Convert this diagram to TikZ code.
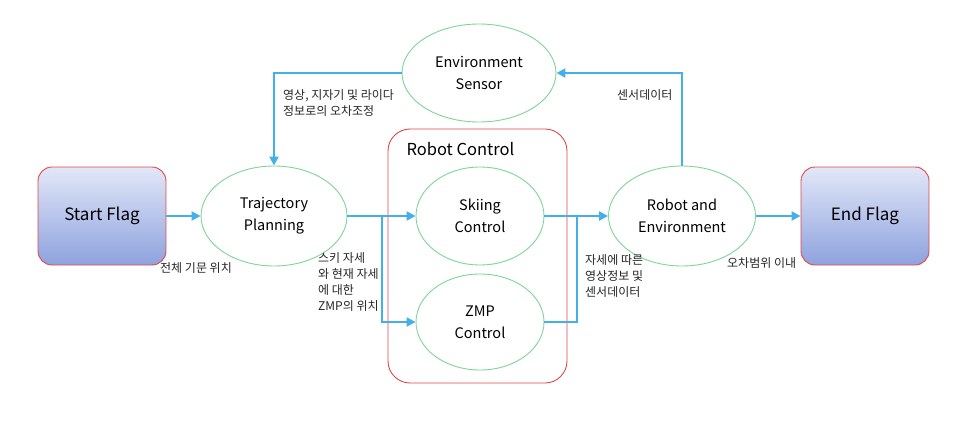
\documentclass[tikz,border=0pt]{standalone}
\usepackage{fontspec}
\setmainfont{Noto Sans CJK KR}
\usetikzlibrary{shapes.geometric,arrows.meta}
\definecolor{flow}{HTML}{45B0E8}
\definecolor{ellg}{HTML}{7FD49A}
\definecolor{redb}{HTML}{E04848}
\definecolor{gtop}{HTML}{E2E7F8}
\definecolor{gbot}{HTML}{8EA2DE}
\tikzset{
  flag/.style={rectangle, rounded corners=14pt, draw=redb, line width=0.9pt, top color=gtop, bottom color=gbot, minimum width=128pt, minimum height=98pt, font=\fontsize{17}{20}\selectfont, inner sep=0pt},
  proc/.style={ellipse, draw=ellg, line width=0.9pt, fill=white, minimum width=146pt, minimum height=100pt, inner sep=0pt, align=center, font=\fontsize{14.5}{22}\selectfont},
  flowline/.style={draw=flow, line width=2.6pt},
  flowarrow/.style={flowline, -{Triangle[length=9pt,width=9pt]}},
  lbl/.style={font=\fontsize{12}{16}\selectfont, align=left, inner sep=0pt, text=black!85}
}
\begin{document}
\begin{tikzpicture}[x=1pt,y=-1pt]
\useasboundingbox (0,0) rectangle (964,428);
\fill[white] (0,0) rectangle (964,428);
% Robot Control container
\node[draw=redb, line width=0.9pt, rounded corners=22pt, minimum width=179pt, minimum height=254pt, inner sep=0pt] (rc) at (477.5,256) {};
\node[font=\fontsize{16.5}{19}\selectfont, anchor=west] (rcl) at (403,149) {Robot Control};
% nodes
\node[flag] (sf) at (102,216) {Start Flag};
\node[flag] (ef) at (865,216) {End Flag};
\node[proc] (tp) at (274,216) {Trajectory\\Planning};
\node[proc, minimum width=128pt, minimum height=98pt] (sk) at (480,216) {Skiing\\Control};
\node[proc, minimum width=128pt, minimum height=96pt] (zmp) at (480,322) {ZMP\\Control};
\node[proc, minimum width=147pt, minimum height=100pt] (re) at (682,216) {Robot and\\Environment};
\node[proc, minimum width=154pt, minimum height=98pt] (es) at (479,73) {Environment\\Sensor};
% connectors
\coordinate (split) at (382,216);
\coordinate (join) at (577,216);
\draw[flowarrow] (sf.east) -- (tp.west);
\draw[flowarrow] (tp.east) -- (sk.west);
\draw[flowarrow] (split) |- (zmp.west);
\draw[flowarrow] (sk.east) -- (re.west);
\draw[flowline] (zmp.east) -| (join);
\draw[flowarrow] (re.east) -- (ef.west);
\draw[flowarrow] (re.north) |- (es.east);
\draw[flowarrow] (es.west) -| (tp.north);
% labels
\node[lbl, anchor=north west] (l1) at (283,89) {영상, 지자기 및 라이다\\정보로의 오차조정};
\node[lbl, anchor=north west] (l2) at (160,262) {전체 기문 위치};
\node[lbl, anchor=north west] (l3) at (318,252) {스키 자세\\와 현재 자세\\에 대한\\ZMP의 위치};
\node[lbl, anchor=north west] (l4) at (585,254) {자세에 따른\\영상정보 및\\센서데이터};
\node[lbl, anchor=north west] (l5) at (617,89) {센서데이터};
\node[lbl, anchor=north west] (l6) at (727,257) {오차범위 이내};
\end{tikzpicture}
\end{document}
